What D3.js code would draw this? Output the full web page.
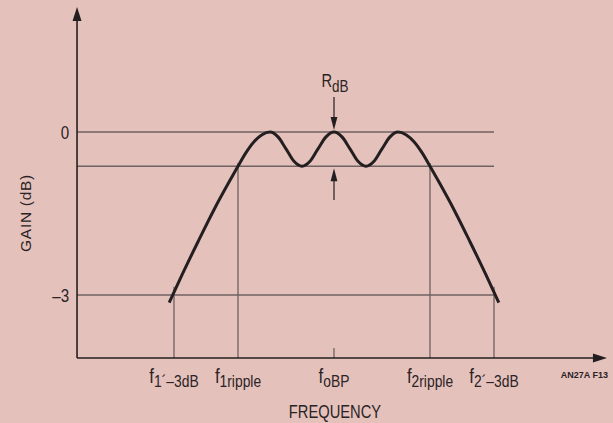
<!DOCTYPE html>
<html>
<head>
<meta charset="utf-8">
<script src="https://cdn.jsdelivr.net/npm/d3@7"></script>
<style>
  html, body { margin: 0; padding: 0; background: #e5c1bc; }
  svg { display: block; }
  text { font-family: "Liberation Sans", Arial, Helvetica, sans-serif; fill: #2a2324; }
</style>
</head>
<body>
<script>
// Band-pass response: normalized frequency (units of half a ripple period) vs gain in dB
const curveFreq = [-0.15, 0.25, 0.75, 1.25, 1.75, 2.0, 2.25, 2.5, 2.75, 3.0, 3.25, 3.5, 3.75, 4.0, 4.25, 4.5, 4.75, 5.0, 5.25, 5.5, 5.75, 6.0, 6.25, 6.5, 6.75, 7.0, 7.25, 7.5, 7.75, 8.0, 8.25, 8.75, 9.25, 9.75, 10.15];
const curveGain = [-3.14, -2.63, -2.02, -1.43, -0.89, -0.63, -0.38, -0.18, -0.05, 0.0, -0.09, -0.31, -0.54, -0.63, -0.54, -0.31, -0.09, 0.0, -0.09, -0.31, -0.54, -0.63, -0.54, -0.31, -0.09, 0.0, -0.05, -0.18, -0.38, -0.63, -0.89, -1.43, -2.02, -2.63, -3.14];

// Marked frequencies along the x axis
const markerFreqs = [0, 2, 5, 8, 10];
const markerSubs = ["1´–3dB", "1ripple", "oBP", "2ripple", "2´–3dB"];

// Gain reference levels
const gainTicks = [0, -3];
const gainTickLabels = ["0", "–3"];
const rippleGain = -0.63;
const rippleFreq = 5;

const W = 613, H = 423;
const axisFreq = [-3.03, 13.53];
const axisGain = [-4.16, 2.3];

const x = d3.scaleLinear().domain([0, 10]).range([174, 494]);
const y = d3.scaleLinear().domain([0, -3]).range([132, 295]);

const svg = d3.select("body").append("svg").attr("width", W).attr("height", H);

const gridColor = "#6f6262";
const inkColor = "#231f20";
const narrow = 0.84; // horizontal squeeze giving a condensed sans look

// Horizontal reference lines: 0 dB, ripple level, -3 dB
const levels = [0, rippleGain, -3];
svg.append("g").selectAll("line").data(levels).join("line")
  .attr("x1", x(axisFreq[0])).attr("x2", x(10))
  .attr("y1", d => y(d)).attr("y2", d => y(d))
  .attr("stroke", gridColor).attr("stroke-width", 1.3);

// Vertical drop lines from the marked frequencies
const dropTop = [-2.85, -0.57, null, -0.57, -2.85];
svg.append("g").selectAll("line").data(markerFreqs).join("line")
  .attr("x1", d => x(d)).attr("x2", d => x(d))
  .attr("y1", (d, i) => dropTop[i] === null ? y(axisGain[0]) - 10 : y(dropTop[i]))
  .attr("y2", y(axisGain[0]))
  .attr("stroke", gridColor).attr("stroke-width", 1.3);

// Axes with arrowheads
const x0 = x(axisFreq[0]), yb = y(axisGain[0]);
svg.append("line").attr("x1", x0).attr("x2", x0).attr("y1", yb).attr("y2", y(axisGain[1]) + 8)
  .attr("stroke", inkColor).attr("stroke-width", 1.6);
svg.append("line").attr("x1", x0).attr("x2", x(axisFreq[1]) - 8).attr("y1", yb).attr("y2", yb)
  .attr("stroke", inkColor).attr("stroke-width", 1.6);
const yt = y(axisGain[1]);
svg.append("path").attr("d", `M${x0},${yt} L${x0 - 4.5},${yt + 14} L${x0 + 4.5},${yt + 14} Z`).attr("fill", inkColor);
const xr = x(axisFreq[1]);
svg.append("path").attr("d", `M${xr},${yb} L${xr - 14},${yb - 4.5} L${xr - 14},${yb + 4.5} Z`).attr("fill", inkColor);

// Response curve
const line = d3.line().x(d => x(d[0])).y(d => y(d[1])).curve(d3.curveMonotoneX);
svg.append("path").datum(curveFreq.map((f, i) => [f, curveGain[i]]))
  .attr("d", line).attr("fill", "none").attr("stroke", inkColor)
  .attr("stroke-width", 3).attr("stroke-linecap", "butt");

// Ripple arrows
const xa = x(rippleFreq);
function arrow(x1, yFrom, yTip) {
  const dir = Math.sign(yTip - yFrom);
  svg.append("line").attr("x1", x1).attr("x2", x1).attr("y1", yFrom).attr("y2", yTip - dir * 8)
    .attr("stroke", inkColor).attr("stroke-width", 1.2);
  svg.append("path").attr("d", `M${x1},${yTip} L${x1 - 3.4},${yTip - dir * 13} L${x1 + 3.4},${yTip - dir * 13} Z`).attr("fill", inkColor);
}
arrow(xa, 97, y(0) - 2);
arrow(xa, 200, y(rippleGain) + 2);

// Condensed text helper
function label(parent, tx, ty, size, anchor) {
  return parent.append("g").attr("transform", `translate(${tx},${ty}) scale(${narrow},1)`)
    .append("text").attr("text-anchor", anchor).style("font-size", size + "px");
}

const rLabel = label(svg, xa + 1, 87, 17.5, "middle");
rLabel.append("tspan").text("R");
rLabel.append("tspan").attr("dy", 5).style("font-size", "16px").text("dB");

// Gain tick labels
gainTicks.forEach((g, i) => {
  label(svg, x0 - 8, y(g) + 6.5, 18, "end").text(gainTickLabels[i]);
});

// Frequency marker labels
markerFreqs.forEach((f, i) => {
  const t = label(svg, x(f), 383, 20, "middle");
  t.append("tspan").text("f");
  t.append("tspan").attr("dy", 4).style("font-size", "16.5px").text(markerSubs[i]);
});

// Axis titles
label(svg, 335, 418, 17.5, "middle").text("FREQUENCY");
svg.append("text").attr("transform", "translate(31,213) rotate(-90)").attr("text-anchor", "middle")
  .style("font-size", "15.5px").style("letter-spacing", "0.7px").text("GAIN (dB)");

svg.append("text").attr("x", 608).attr("y", 378).attr("text-anchor", "end")
  .style("font-size", "9px").style("font-weight", "bold").text("AN27A F13");
</script>
</body>
</html>
